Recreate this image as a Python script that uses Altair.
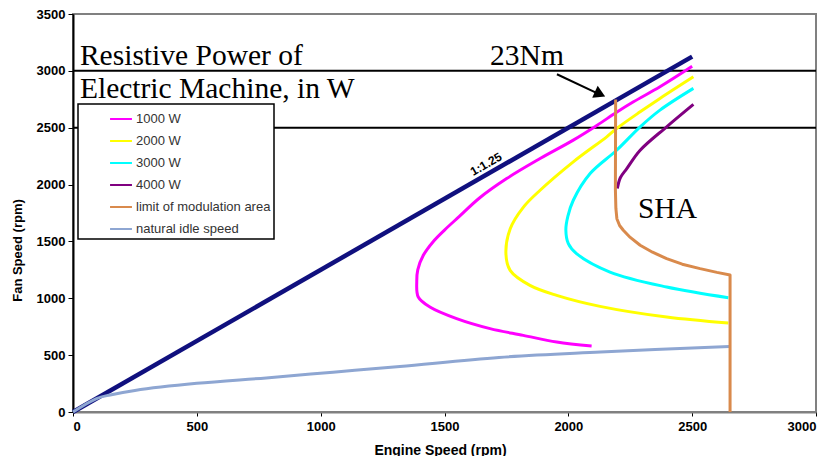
import altair as alt
import pandas as pd

# ---------------- data ----------------
ratio_rpm = [0, 2500]
ratio_fan = [0, 3125]

w1000_rpm = [2500, 2370, 2263, 2195, 2115, 2020, 1886, 1751, 1640, 1560, 1500, 1455, 1415, 1392, 1388, 1394, 1441, 1549, 1684, 1818, 1953, 2094]
w1000_fan = [3040, 2860, 2728, 2636, 2520, 2391, 2229, 2053, 1880, 1720, 1600, 1500, 1380, 1250, 1150, 1011, 923, 821, 733, 674, 615, 580]

w2000_rpm = [2505, 2370, 2290, 2195, 2155, 2020, 1886, 1818, 1765, 1748, 1765, 1845, 1953, 2128, 2397, 2646]
w2000_fan = [2948, 2758, 2640, 2493, 2420, 2200, 1950, 1800, 1610, 1393, 1246, 1114, 1026, 929, 835, 782]

w3000_rpm = [2505, 2370, 2290, 2195, 2088, 2020, 1998, 1990, 2000, 2033, 2168, 2397, 2646]
w3000_fan = [2846, 2655, 2508, 2302, 2097, 1862, 1720, 1600, 1480, 1393, 1231, 1099, 1005]

w4000_rpm = [2505, 2397, 2290, 2236, 2210, 2198]
w4000_fan = [2705, 2508, 2302, 2140, 2060, 1965]

limit_rpm = [2191, 2190, 2192, 2196, 2207, 2222, 2250, 2290, 2340, 2397, 2460, 2532, 2600, 2653, 2653]
limit_fan = [2749, 1960, 1790, 1700, 1640, 1598, 1535, 1466, 1405, 1349, 1300, 1261, 1228, 1205, 0]

idle_rpm = [0, 95, 150, 250, 500, 780, 1050, 1320, 1720, 2130, 2650]
idle_fan = [0, 118, 150, 190, 252, 300, 350, 400, 480, 527, 577]

series_names = ["1000 W", "2000 W", "3000 W", "4000 W",
                "limit of modulation area", "natural idle speed"]
series_colors = ["#ff00ff", "#ffff00", "#00ffff", "#800080", "#d98a4c", "#8ea6d2"]
series_rpm = [w1000_rpm, w2000_rpm, w3000_rpm, w4000_rpm, limit_rpm, idle_rpm]
series_fan = [w1000_fan, w2000_fan, w3000_fan, w4000_fan, limit_fan, idle_fan]

x_ticks = [0, 500, 1000, 1500, 2000, 2500, 3000]
y_ticks = [0, 500, 1000, 1500, 2000, 2500, 3000, 3500]
ref_lines = [2500, 3000]

# annotation anchors (data coordinates)
title_lines = ["Resistive Power of", "Electric Machine, in W"]
title_rpm = [28, 28]
title_fan = [3050, 2762]
nm_label = "23Nm"
nm_pos = (1833, 3051)
sha_label = "SHA"
sha_pos = (2281, 1704)
ratio_label = "1:1.25"
ratio_pos = (1668, 2180)
arrow_rpm = [1954, 2120]
arrow_fan = [2970, 2800]
arrow_head = (2128, 2795)

# ---------------- build tables ----------------
rows = []
for name, xs, ys in zip(series_names, series_rpm, series_fan):
    for i, (a, b) in enumerate(zip(xs, ys)):
        rows.append({"series": name, "rpm": a, "fan": b, "i": i})
df = pd.DataFrame(rows)
df_ratio = pd.DataFrame({"rpm": ratio_rpm, "fan": ratio_fan, "i": [0, 1]})
df_ref = pd.DataFrame({"fan": ref_lines})
df_title = pd.DataFrame({"t": title_lines, "rpm": title_rpm, "fan": title_fan})
df_nm = pd.DataFrame({"t": [nm_label], "rpm": [nm_pos[0]], "fan": [nm_pos[1]]})
df_sha = pd.DataFrame({"t": [sha_label], "rpm": [sha_pos[0]], "fan": [sha_pos[1]]})
df_rl = pd.DataFrame({"t": [ratio_label], "rpm": [ratio_pos[0]], "fan": [ratio_pos[1]]})
df_arrow = pd.DataFrame({"rpm": arrow_rpm, "fan": arrow_fan, "i": [0, 1]})
df_head = pd.DataFrame({"rpm": [arrow_head[0]], "fan": [arrow_head[1]]})

xscale = alt.Scale(domain=[0, 3000], nice=False)
yscale = alt.Scale(domain=[0, 3500], nice=False)

X = alt.X("rpm:Q", scale=xscale, axis=alt.Axis(
    values=x_ticks, format="d", title="Engine Speed (rpm)", grid=False,
    domainColor="#808080", domainWidth=2, tickColor="#000000", tickSize=4,
    labelFont="Liberation Sans", labelFontWeight="bold", labelFontSize=13,
    labelColor="#000", labelPadding=4,
    titleFont="Liberation Sans", titleFontWeight="bold", titleFontSize=14,
    titleColor="#000", titleY=38, titleX=367, titleBaseline="middle"))
Y = alt.Y("fan:Q", scale=yscale, axis=alt.Axis(
    values=y_ticks, format="d", title="Fan Speed (rpm)", grid=False,
    domainColor="#000000", domainWidth=2, tickColor="#000000", tickSize=5,
    labelFont="Liberation Sans", labelFontWeight="bold", labelFontSize=13,
    labelColor="#000", labelPadding=3,
    titleFont="Liberation Sans", titleFontWeight="bold", titleFontSize=13,
    titleColor="#000", titleX=-56, titleY=236, titleAngle=270,
    titleAlign="center", titleBaseline="middle"))

enc_x = alt.X("rpm:Q", scale=xscale)
enc_y = alt.Y("fan:Q", scale=yscale)
color_enc = alt.Color(
    "series:N",
    scale=alt.Scale(domain=series_names, range=series_colors),
    sort=series_names,
    legend=alt.Legend(
        title=None, orient="none", legendX=5, legendY=90,
        symbolType="stroke", symbolSize=480, symbolStrokeWidth=2,
        symbolOffset=28, rowPadding=3, padding=3,
        labelFont="Liberation Sans", labelFontSize=13,
        labelColor="#333", labelOffset=3,
        fillColor="#ffffff", strokeColor="#000000"))

refs = alt.Chart(df_ref).mark_rule(color="#000", strokeWidth=2).encode(y=enc_y)

ratio = alt.Chart(df_ratio).mark_line(color="#10107e", strokeWidth=4.5).encode(
    x=X, y=Y, order="i:Q")

smooth = alt.Chart(df).transform_filter(
    alt.datum.series != "limit of modulation area"
).mark_line(strokeWidth=3, interpolate="catmull-rom").encode(
    x=enc_x, y=enc_y, color=color_enc, detail="series:N", order="i:Q")

limit = alt.Chart(df).transform_filter(
    alt.datum.series == "limit of modulation area"
).mark_line(strokeWidth=3, strokeJoin="round").encode(
    x=enc_x, y=enc_y, color=color_enc, detail="series:N", order="i:Q")

title_txt = alt.Chart(df_title).mark_text(
    font="Liberation Serif", fontSize=29.5, align="left", baseline="alphabetic",
    color="#000").encode(x=enc_x, y=enc_y, text="t:N")
nm_txt = alt.Chart(df_nm).mark_text(
    font="Liberation Serif", fontSize=29.5, align="center", baseline="alphabetic",
    color="#000").encode(x=enc_x, y=enc_y, text="t:N")
sha_txt = alt.Chart(df_sha).mark_text(
    font="Liberation Serif", fontSize=29.5, align="left", baseline="alphabetic",
    color="#000").encode(x=enc_x, y=enc_y, text="t:N")
rl_txt = alt.Chart(df_rl).mark_text(
    font="Liberation Sans", fontSize=12, fontWeight="bold", angle=330,
    align="center", baseline="middle", color="#000").encode(
    x=enc_x, y=enc_y, text="t:N")
arrow = alt.Chart(df_arrow).mark_line(color="#000", strokeWidth=2).encode(
    x=enc_x, y=enc_y, order="i:Q")
head = alt.Chart(df_head).mark_point(
    shape="triangle-right", filled=True, color="#000", size=170, angle=25, opacity=1).encode(
    x=enc_x, y=enc_y)

chart = alt.layer(refs, ratio, smooth, limit, title_txt, nm_txt, sha_txt, rl_txt, arrow, head).properties(
    width=743, height=398,
    autosize=alt.AutoSizeParams(type="none"),
    padding={"left": 65, "top": 6, "right": 6, "bottom": 44},
    background="#ffffff",
).configure_view(stroke="#808080", strokeWidth=2).configure_legend(strokeWidth=1.5)

chart.save("out.html", embed_options={"renderer": "svg", "actions": False})
